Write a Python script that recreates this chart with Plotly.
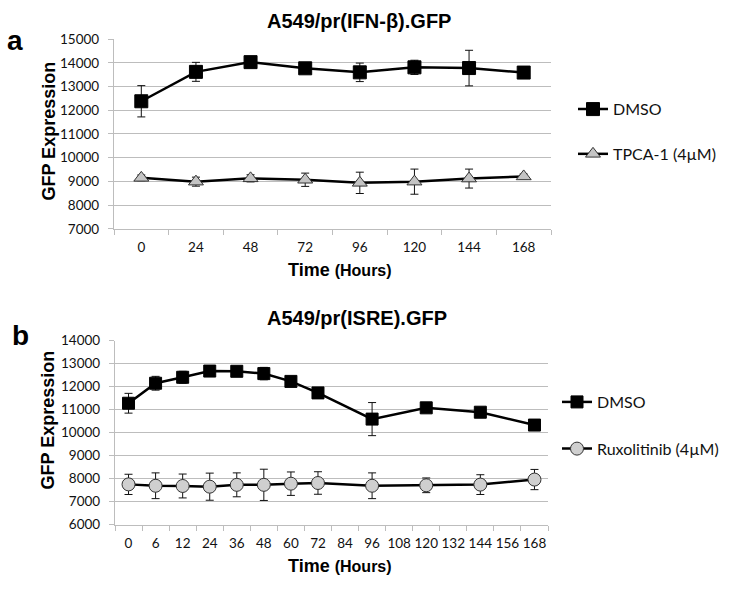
import plotly.graph_objects as go

# ---------- Data ----------
# Panel a: A549/pr(IFN-β).GFP
a_time = ["0", "24", "48", "72", "96", "120", "144", "168"]
a_dmso = [12380, 13620, 14030, 13770, 13600, 13810, 13780, 13590]
a_dmso_err = [660, 400, 80, 150, 390, 300, 750, 80]
a_tpca = [9150, 8990, 9130, 9070, 8940, 8990, 9120, 9210]
a_tpca_err = [120, 190, 150, 280, 450, 530, 400, 100]

# Panel b: A549/pr(ISRE).GFP
b_categories = ["0", "6", "12", "24", "36", "48", "60", "72", "84", "96",
                "108", "120", "132", "144", "156", "168"]
b_time = ["0", "6", "12", "24", "36", "48", "60", "72", "96", "120", "144", "168"]
b_dmso = [11280, 12150, 12410, 12680, 12670, 12570, 12230, 11730, 10590, 11080, 10890, 10330]
b_dmso_err = [430, 300, 260, 120, 150, 270, 100, 120, 720, 100, 100, 100]
b_rux = [7750, 7690, 7680, 7650, 7730, 7730, 7780, 7810, 7690, 7710, 7740, 7960]
b_rux_err = [440, 560, 520, 590, 520, 680, 510, 490, 560, 320, 430, 440]

a_yticks = [7000, 8000, 9000, 10000, 11000, 12000, 13000, 14000, 15000]
b_yticks = [6000, 7000, 8000, 9000, 10000, 11000, 12000, 13000, 14000]

W, H = 734, 590
def px(x): return x / W
def py(y): return 1 - y / H

TICKFONT = dict(family="Lato", size=13.5, color="#111111")
LEGFONT = dict(family="Lato", size=16, color="#111111")
GRID = "#bdbdbd"

fig = go.Figure()

def err(arr):
    return dict(type="data", array=arr, visible=True, color="#111111", thickness=1, width=4)

fig.add_trace(go.Scatter(
    x=a_time, y=a_dmso, error_y=err(a_dmso_err), name="DMSO",
    mode="lines+markers", line=dict(color="black", width=2.5),
    marker=dict(symbol="square", size=13, color="black", line=dict(color="black", width=1)),
    xaxis="x", yaxis="y", legend="legend"))
fig.add_trace(go.Scatter(
    x=a_time, y=a_tpca, error_y=err(a_tpca_err), name="TPCA-1 (4µM)",
    mode="lines+markers", line=dict(color="black", width=2.5),
    marker=dict(symbol="triangle-up", size=13, color="#c4c4c4", line=dict(color="#333333", width=1)),
    xaxis="x", yaxis="y", legend="legend2"))
fig.add_trace(go.Scatter(
    x=b_time, y=b_dmso, error_y=err(b_dmso_err), name="DMSO",
    mode="lines+markers", line=dict(color="black", width=2.5),
    marker=dict(symbol="square", size=12, color="black", line=dict(color="black", width=1)),
    xaxis="x2", yaxis="y2", legend="legend3"))
fig.add_trace(go.Scatter(
    x=b_time, y=b_rux, error_y=err(b_rux_err), name="Ruxolitinib (4µM)",
    mode="lines+markers", line=dict(color="black", width=2.5),
    marker=dict(symbol="circle", size=13, color="#cfcfcf", line=dict(color="#333333", width=1)),
    xaxis="x2", yaxis="y2", legend="legend4"))

def xaxis(dom, cats, anchor):
    return dict(domain=dom, anchor=anchor, type="category",
                categoryorder="array", categoryarray=cats,
                range=[-0.5, len(cats) - 0.5],
                showline=True, linecolor=GRID, linewidth=1.3,
                ticks="outside", tickson="boundaries", ticklen=5, tickcolor=GRID,
                showgrid=False, zeroline=False, tickfont=TICKFONT, tickangle=0,
                ticklabelstandoff=6, fixedrange=True)

def yaxis(dom, ticks, anchor):
    return dict(domain=dom, anchor=anchor, range=[ticks[0], ticks[-1]],
                tickvals=ticks, ticktext=[str(t) for t in ticks],
                showline=True, linecolor=GRID, linewidth=1.3,
                ticks="outside", ticklen=5, tickcolor=GRID,
                showgrid=True, gridcolor=GRID, gridwidth=1.3,
                zeroline=False, tickfont=TICKFONT, ticklabelstandoff=6,
                fixedrange=True)

def leg(xp, yp):
    return dict(x=px(xp), y=py(yp), xanchor="left", yanchor="middle",
                font=LEGFONT, bgcolor="rgba(0,0,0,0)", borderwidth=0,
                itemwidth=30)

fig.update_layout(
    width=W, height=H, margin=dict(l=0, r=0, t=0, b=0),
    paper_bgcolor="white", plot_bgcolor="white",
    xaxis=xaxis([px(114), px(551)], a_time, "y"),
    yaxis=yaxis([py(227), py(32)], a_yticks, "x"),
    xaxis2=xaxis([px(115), px(548)], b_categories, "y2"),
    yaxis2=yaxis([py(531), py(342)], b_yticks, "x2"),
    legend=leg(573, 104),
    legend2=leg(573, 150),
    legend3=leg(557, 405),
    legend4=leg(557, 453),
    showlegend=True,
)

ann = []
BOLD = "Liberation Sans"
ann.append(dict(text="<b>A549/pr(IFN-β).GFP</b>", x=px(265), y=py(13), xanchor="left", yanchor="middle",
                font=dict(family=BOLD, size=20, color="black")))
ann.append(dict(text="<b>A549/pr(ISRE).GFP</b>", x=px(265), y=py(319), xanchor="left", yanchor="middle",
                font=dict(family=BOLD, size=20, color="black")))
ann.append(dict(text="<b>a</b>", x=px(15), y=py(33), xanchor="center", yanchor="middle",
                font=dict(family=BOLD, size=28, color="black")))
ann.append(dict(text="<b>b</b>", x=px(20), y=py(337), xanchor="center", yanchor="middle",
                font=dict(family=BOLD, size=28, color="black")))
ann.append(dict(text="<b>GFP Expression</b>", x=px(49), y=py(127), textangle=-90,
                xanchor="center", yanchor="middle", font=dict(family=BOLD, size=18, color="black")))
ann.append(dict(text="<b>GFP Expression</b>", x=px(48), y=py(423), textangle=-90,
                xanchor="center", yanchor="middle", font=dict(family=BOLD, size=18, color="black")))
xt = "<b>Time</b> <span style='font-size:16px'><b>(Hours)</b></span>"
ann.append(dict(text=xt, x=px(340), y=py(269), xanchor="center", yanchor="middle",
                font=dict(family=BOLD, size=18, color="black")))
ann.append(dict(text=xt, x=px(340), y=py(574), xanchor="center", yanchor="middle",
                font=dict(family=BOLD, size=18, color="black")))
for a in ann:
    a.update(xref="paper", yref="paper", showarrow=False)
fig.update_layout(annotations=ann)

fig.write_html("out.html", config={"displayModeBar": False},
               post_script="document.body.style.margin='0px';")
